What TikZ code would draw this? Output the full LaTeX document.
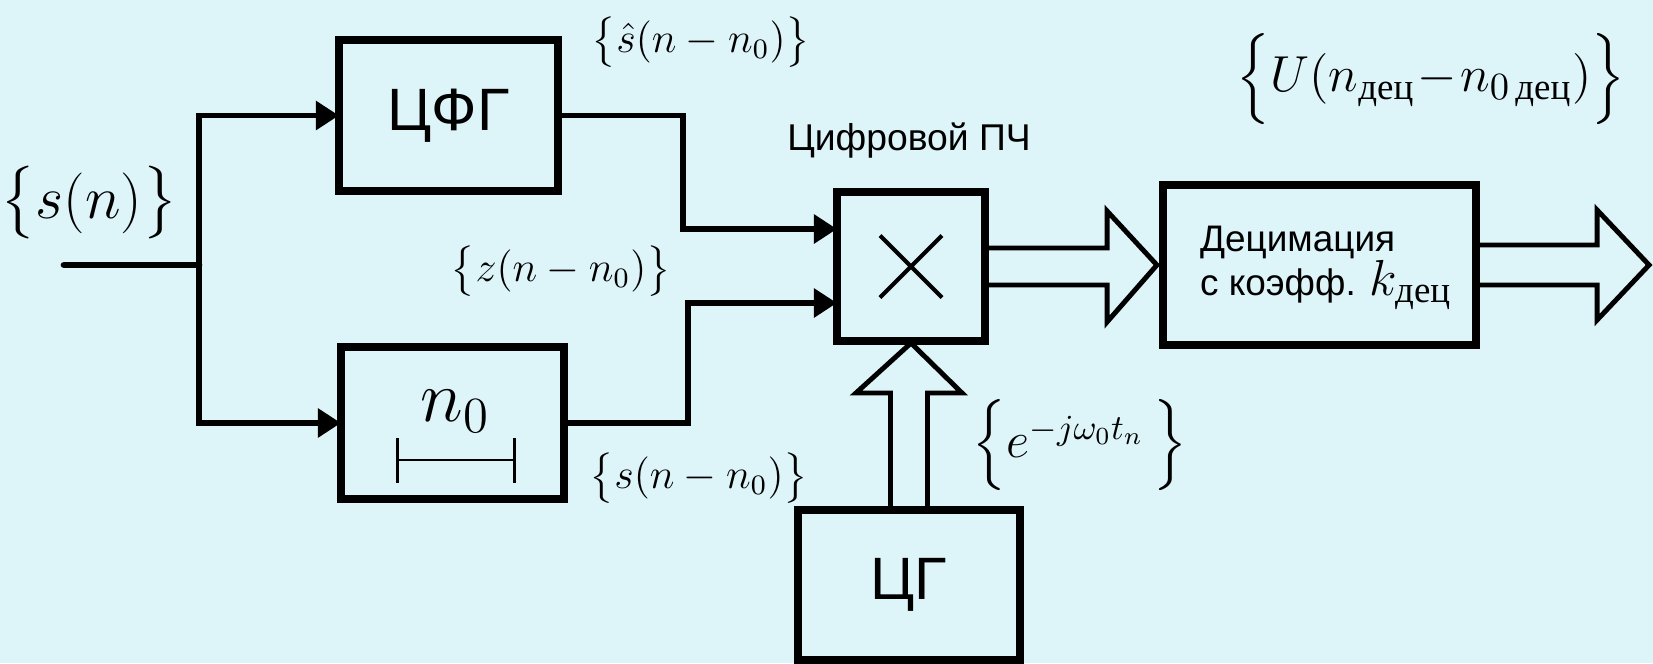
\documentclass[tikz,border=0pt]{standalone}
\usepackage{amsmath}
\usepackage{fontspec}
\setmainfont{Liberation Serif}
\newfontfamily\rusans{Liberation Sans}
\usepackage{tikz}
\usetikzlibrary{
    arrows.meta,
    positioning,
    calc
}

\definecolor{bgcyan}{RGB}{221,244,249}

\begin{document}
\begin{tikzpicture}[x=0.01cm,y=-0.01cm,
    blk/.style={draw,line width=2.2pt,outer sep=0pt,inner sep=0pt},
    wire/.style={line width=1.7pt,-{Triangle[length=2.3mm,width=2.8mm]}},
    hollow/.style={line width=1.4pt,line join=miter},
    bigsans/.style={font=\rusans\fontsize{17}{17}\selectfont},
    smallsans/.style={font=\rusans\fontsize{10.5}{12.5}\selectfont},
    lbl/.style={inner sep=0pt,font=\fontsize{#1}{#1}\selectfont}
]

% Background
\path[use as bounding box,fill=bgcyan] (0,0) rectangle (1653,663);

% Blocks
\node[blk,bigsans,minimum width=21.9mm,minimum height=15.1mm] (cfg) at (448.5,115.5) {ЦФГ};
\node[blk,minimum width=22.3mm,minimum height=15.2mm] (dly) at (452.5,423) {};
\node[blk,minimum width=14.8mm,minimum height=14.9mm] (mix) at (911,266.5) {};
\node[blk,minimum width=31.3mm,minimum height=16mm] (dec) at (1319.5,265) {};
\node[blk,bigsans,minimum width=22.2mm,minimum height=15mm] (gen) at (909,585) {ЦГ};

% Block texts
\node[smallsans,align=left] (dectxt) at (1326,268)
    {Децимация\\с коэфф. {\fontsize{15}{15}\selectfont$k_{\textrm{дец}}$}};
\node[lbl=20] (nzero) at (455,411) {$n_0$};

% Delay mark
\draw[line width=0.6pt]
($(dly.center)+(-55,15)$) -- ($(dly.center)+(-55,60)$)
($(dly.center)+(-55,37)$) -- ($(dly.center)+(62,37)$)
($(dly.center)+(62,15)$) -- ($(dly.center)+(62,60)$);

% Multiplier cross
\draw[line width=1.2pt]
($(mix.center)+(-31,-31)$) -- ($(mix.center)+(31,31)$)
($(mix.center)+(-31,31)$) -- ($(mix.center)+(31,-31)$);

% Input and branches
\coordinate (in) at (64,265);
\coordinate (jn) at (199,265);
\draw[line width=1.9pt,line cap=round] (in) -- (jn);
\draw[wire] (jn) |- (cfg.west);
\draw[wire] (jn) |- (dly.west);

% Into the multiplier
\draw[wire] (cfg.east) -- ++(125,0) |- ($(mix.west)+(0,-37.5)$);
\draw[wire] (dly.east) -- ++(124,0) |- ($(mix.west)+(0,36.5)$);

% Wide arrows
\draw[hollow]
($(mix.east)+(0,-18.5)$) -- ++(122,0) -- ++(0,-37) --
($(dec.west)+(-6,0)$) --
($(mix.east)+(122,55.5)$) -- ++(0,-37) --
($(mix.east)+(0,18.5)$);
\coordinate (out) at ($(dec.east)+(173,0)$);
\draw[hollow]
($(dec.east)+(0,-20)$) -- ++(121,0) -- ++(0,-35) --
(out) --
($(dec.east)+(121,55)$) -- ++(0,-35) --
($(dec.east)+(0,20)$);
\draw[hollow]
($(gen.north)+(-18.5,0)$) -- ++(0,-117) -- ++(-34.5,0) --
($(mix.south)+(0,2)$) --
($(gen.north)+(53,-117)$) -- ++(-34.5,0) --
($(gen.north)+(18.5,0)$);

% Labels
\node[lbl=16] (sn) at (89,203) {$\bigl\{s(n)\bigr\}$};
\node[lbl=12] (shat) at (701,42) {$\bigl\{\hat{s}(n-n_0)\bigr\}$};
\node[lbl=12] (zn) at (561,271) {$\bigl\{z(n-n_0)\bigr\}$};
\node[lbl=12] (sdel) at (699,478) {$\bigl\{s(n-n_0)\bigr\}$};
\node[lbl=14] (expo) at (1080,445) {$\Bigl\{e^{-j\omega_0 t_n}\,\Bigr\}$};
\node[lbl=15] (udec) at (1431,79) {$\Bigl\{U(n_{\textrm{дец}}\!-\!n_{0\,\textrm{дец}})\Bigr\}$};
\node[font=\rusans\fontsize{10.6}{12}\selectfont] (ifl) at (909,141) {Цифровой ПЧ};

\end{tikzpicture}
\end{document}
